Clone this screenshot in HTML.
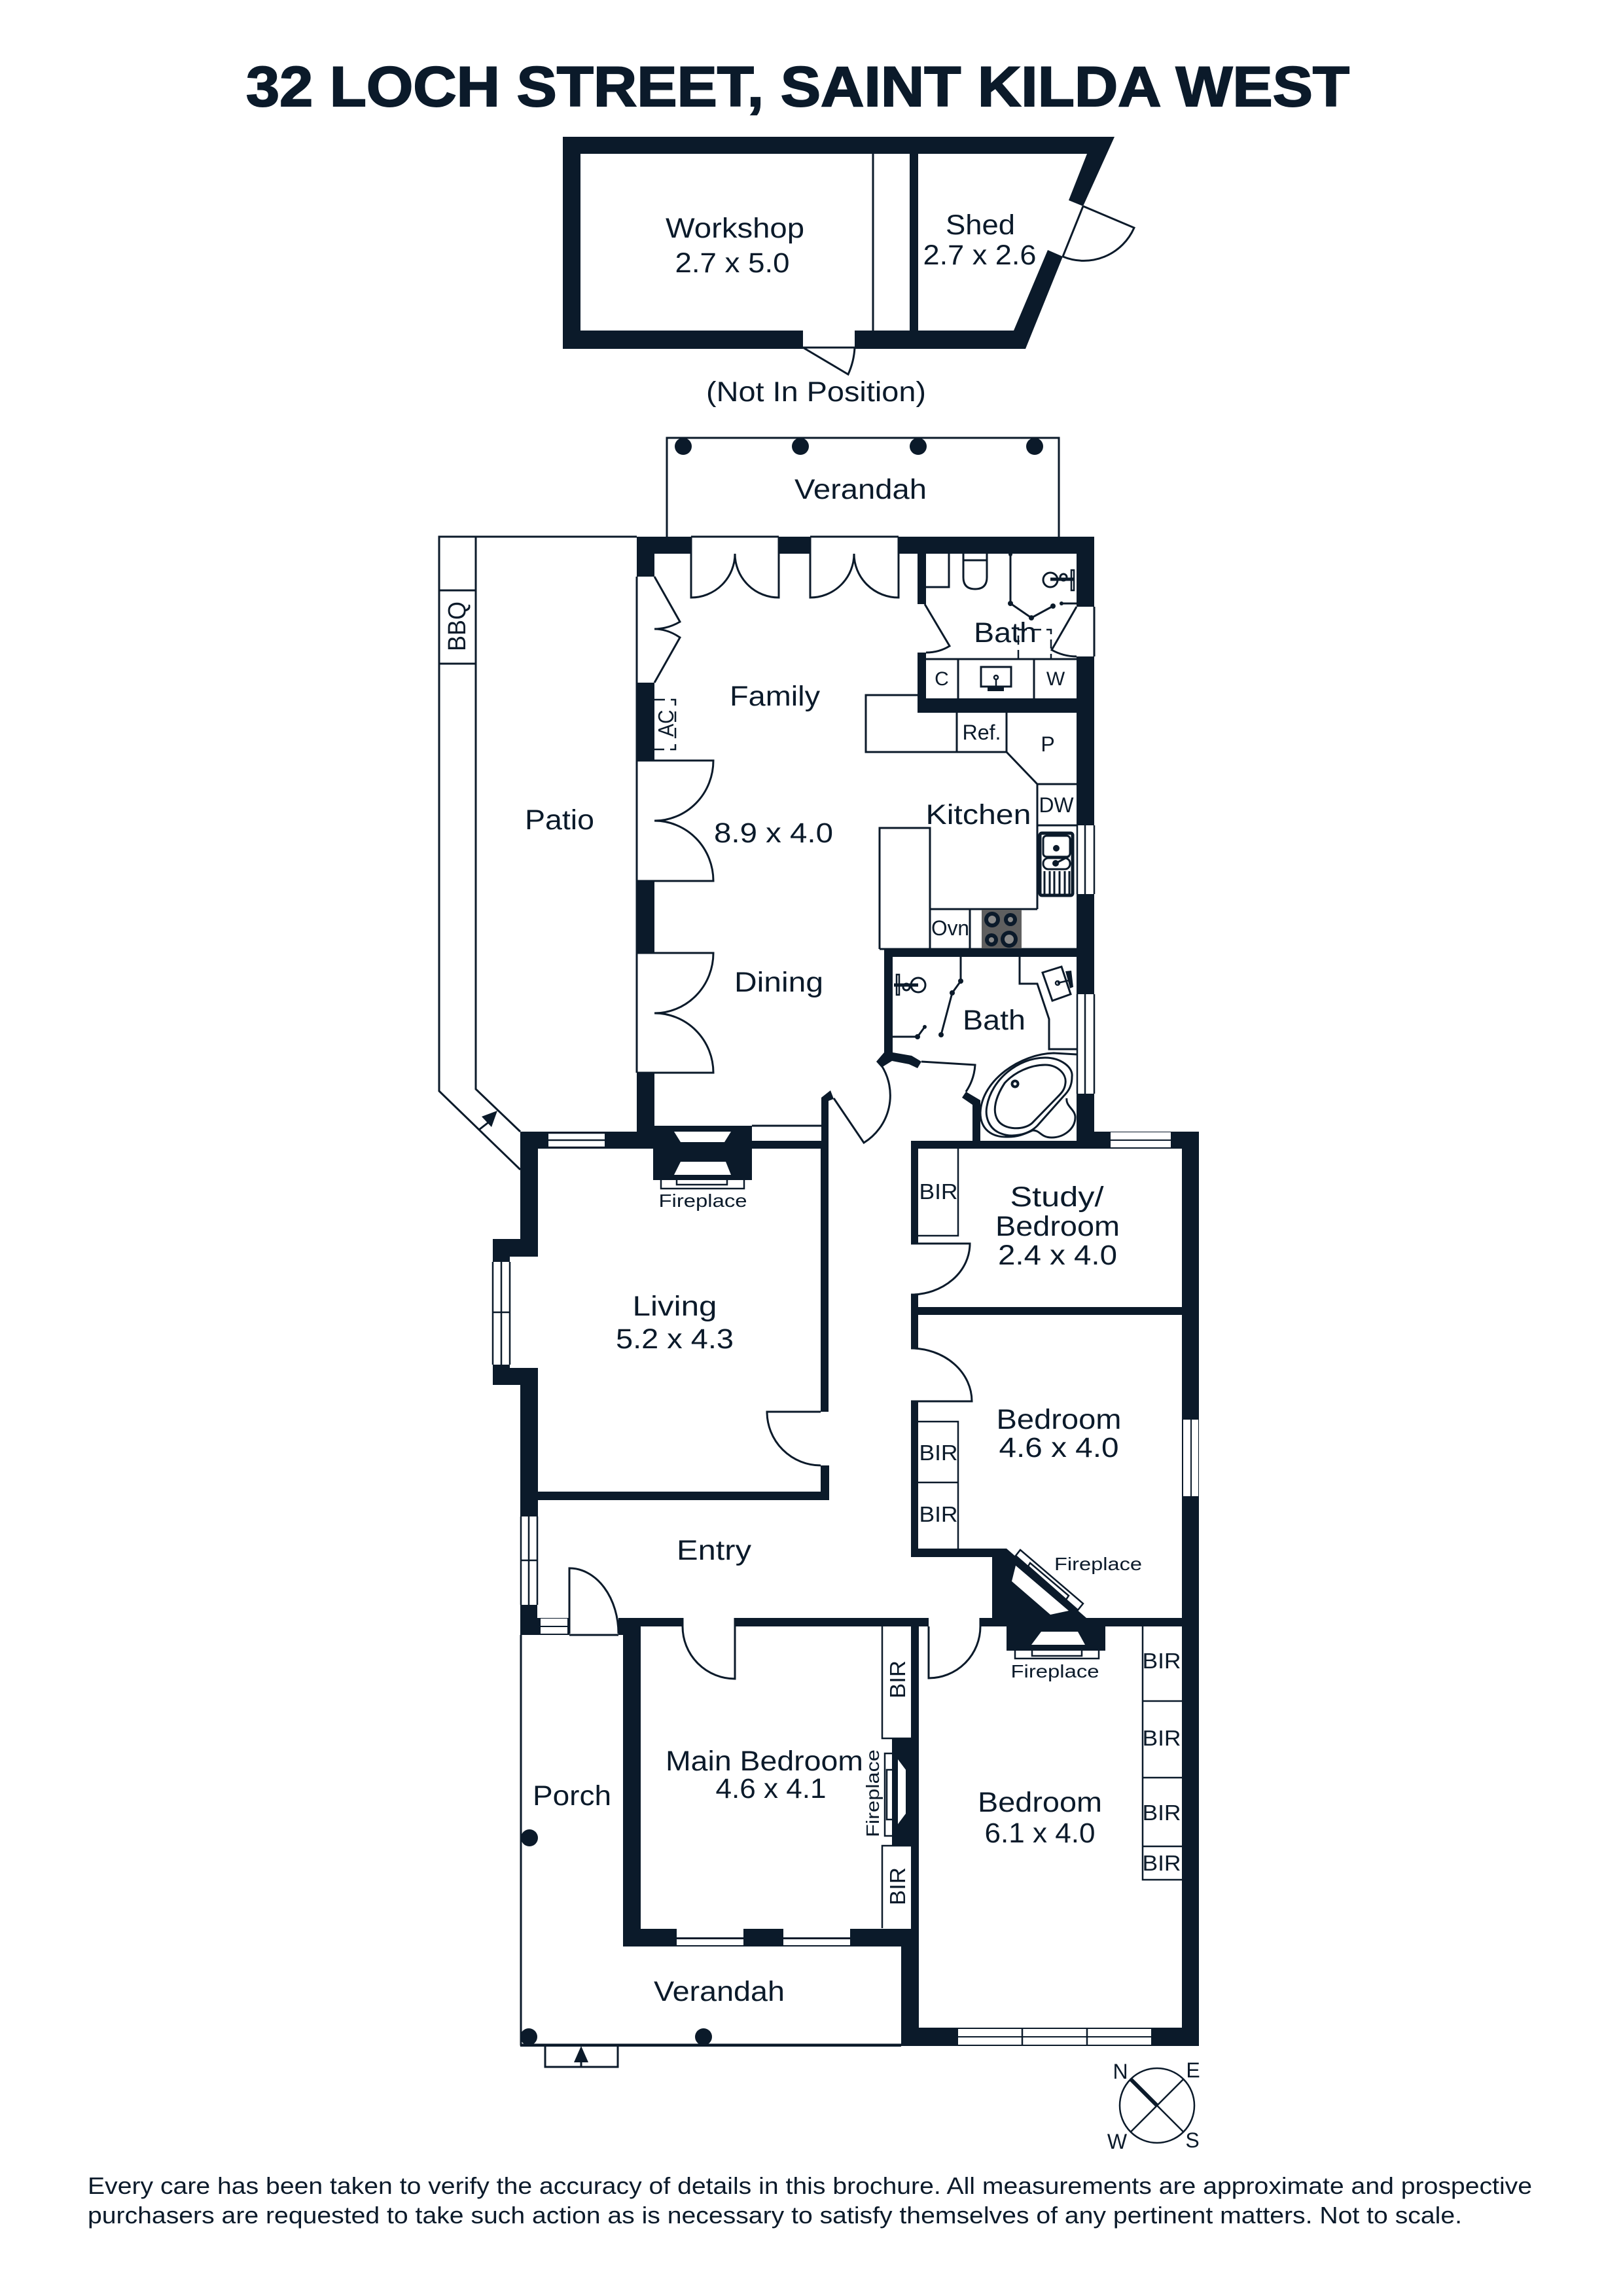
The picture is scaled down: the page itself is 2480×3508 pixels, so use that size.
<!DOCTYPE html>
<html><head><meta charset="utf-8"><title>32 Loch Street, Saint Kilda West</title>
<style>
html,body{margin:0;padding:0;background:#fff}
svg{display:block}
text{font-family:"Liberation Sans",sans-serif;fill:#0b1a2a}
.t{font-size:43px}.s{font-size:33px}.f{font-size:28px}.d{font-size:36px}
.l{fill:none;stroke:#0b1a2a;stroke-width:3}
.m{fill:none;stroke:#0b1a2a;stroke-width:2.5}
.w{fill:#0b1a2a;stroke:none}
.c{fill:#fff;stroke:none}
.h{fill:#fff;stroke:#0b1a2a;stroke-width:2.5}
</style></head><body>
<svg xmlns="http://www.w3.org/2000/svg" width="2480" height="3508" viewBox="0 0 2480 3508">
<rect width="2480" height="3508" fill="#fff"/>
<text x="1219" y="162" text-anchor="middle" font-size="86" font-weight="700" stroke="#0b1a2a" stroke-width="2" textLength="1686" lengthAdjust="spacingAndGlyphs">32 LOCH STREET, SAINT KILDA WEST</text>

<!-- outbuilding -->
<path class="w" d="M860 209H1703L1655 315 1633 306 1661 235H887V505H1227V533H860Z"/>
<path class="w" d="M1306 505H1549L1601 382 1624 392 1567 533H1306Z"/>
<rect class="w" x="1390" y="235" width="13" height="270"/>
<path class="l" d="M1334 235V505M1227 531H1306M1227 531L1296 572Q1305 552 1306 531M1655 315L1733 348A84 84 0 0 1 1624 392M1655 315L1624 392"/>
<text class="t" x="1123" y="363" text-anchor="middle" textLength="212" lengthAdjust="spacingAndGlyphs">Workshop</text>
<text class="t" x="1119" y="416" text-anchor="middle" textLength="175" lengthAdjust="spacingAndGlyphs">2.7 x 5.0</text>
<text class="t" x="1498" y="358" text-anchor="middle" textLength="106" lengthAdjust="spacingAndGlyphs">Shed</text>
<text class="t" x="1497" y="404" text-anchor="middle" textLength="173" lengthAdjust="spacingAndGlyphs">2.7 x 2.6</text>
<text class="t" x="1247" y="613" text-anchor="middle" textLength="336" lengthAdjust="spacingAndGlyphs">(Not In Position)</text>

<!-- rear verandah -->
<path class="l" d="M1019 820V669H1618V820"/>
<circle class="w" cx="1044" cy="682" r="13"/><circle class="w" cx="1223" cy="682" r="13"/><circle class="w" cx="1403" cy="682" r="13"/><circle class="w" cx="1581" cy="682" r="13"/>
<text class="t" x="1315" y="762" text-anchor="middle" textLength="202" lengthAdjust="spacingAndGlyphs">Verandah</text>

<!-- patio -->
<path class="l" d="M973 820H671V1667L795 1787M727 820V1664L795 1729M671 902H727M671 1014H727"/>
<path class="l" d="M732 1726L750 1712"/>
<path class="w" d="M760 1697L736 1706 751 1722Z"/>
<text class="s" transform="translate(711,957) rotate(-90)" text-anchor="middle" textLength="76" lengthAdjust="spacingAndGlyphs" style="font-size:38px">BBQ</text>
<text class="t" x="855" y="1267" text-anchor="middle" textLength="106" lengthAdjust="spacingAndGlyphs">Patio</text>

<!-- thin door/window lines (family) -->
<path class="l" d="M973 881V1639M1056 820V913A67 67 0 0 0 1123 846M1190 820V913A67 67 0 0 1 1123 846M1056 820H1190M1238 820V913A67 67 0 0 0 1305 846M1373 820V913A68 67 0 0 1 1305 846M1238 820H1373"/>
<path class="l" d="M1000 881L1039 950Q1020 961 1000 961Q1020 961 1039 974L1000 1043"/>
<path class="l" d="M973 1162H1090A90 92 0 0 1 1000 1254A90 92 0 0 1 1090 1346H973M973 1456H1090A90 92 0 0 1 1000 1548A90 91 0 0 1 1090 1639H973"/>
<path class="m" stroke-dasharray="16 9" d="M1000 1069H1032V1145H1000"/>
<text class="s" transform="translate(1029,1105) rotate(-90)" text-anchor="middle" textLength="41" lengthAdjust="spacingAndGlyphs">AC</text>

<!-- kitchen -->
<path class="l" d="M1402 1062H1323V1149H1538L1585 1198H1645M1462 1089V1149M1538 1089V1149M1585 1198V1389M1585 1261H1645"/>
<path class="l" d="M1344 1450V1265H1421V1389H1585M1421 1389V1450M1482 1389V1450M1344 1450H1645"/>
<rect x="1500" y="1390" width="61" height="60" fill="#5f5f5f"/>
<circle class="w" cx="1516" cy="1405" r="12"/><circle cx="1516" cy="1405" r="6" fill="#8a8a8a"/>
<circle class="w" cx="1544" cy="1405" r="10"/><circle cx="1544" cy="1405" r="4" fill="#8a8a8a"/>
<circle class="w" cx="1515" cy="1436" r="10"/><circle cx="1515" cy="1436" r="4" fill="#8a8a8a"/>
<circle class="w" cx="1542" cy="1435" r="13"/><circle cx="1542" cy="1435" r="7" fill="#8a8a8a"/>
<rect x="1589" y="1273" width="50" height="95" rx="3" fill="none" stroke="#0b1a2a" stroke-width="5"/>
<rect x="1594" y="1277" width="41" height="32" rx="5" class="l"/>
<rect x="1594" y="1311" width="41" height="17" rx="8" class="l"/>
<circle class="w" cx="1614" cy="1296" r="5"/><circle class="w" cx="1613" cy="1319" r="5"/>
<path class="l" d="M1613 1319L1634 1308M1596 1331V1366M1604 1331V1366M1611 1331V1366M1619 1331V1366M1627 1331V1366M1634 1331V1366"/>
<text class="s" x="1500" y="1130" text-anchor="middle" textLength="59" lengthAdjust="spacingAndGlyphs" style="font-size:32px">Ref.</text>
<text class="s" x="1601" y="1148" text-anchor="middle" style="font-size:32px">P</text>
<text class="s" x="1614" y="1241" text-anchor="middle" textLength="53" lengthAdjust="spacingAndGlyphs" style="font-size:32px">DW</text>
<text class="s" x="1452" y="1429" text-anchor="middle" textLength="58" lengthAdjust="spacingAndGlyphs" style="font-size:32px">Ovn</text>

<!-- upper bath fixtures -->
<path class="l" d="M1415 897H1450V846M1472 846V882Q1472 900 1490 900Q1508 900 1508 882V846M1472 856H1508"/>
<path class="l" d="M1544 846V922L1576 944 1609 926M1622 922H1645"/>
<circle class="w" cx="1544" cy="922" r="4"/><circle class="w" cx="1576" cy="944" r="4"/><circle class="w" cx="1609" cy="926" r="4"/><circle class="w" cx="1622" cy="922" r="3"/><circle class="w" cx="1544" cy="847" r="3"/>
<circle class="l" cx="1605" cy="886" r="11"/>
<path d="M1605 885H1640" stroke="#0b1a2a" stroke-width="5"/>
<circle class="l" cx="1625" cy="882" r="5"/>
<rect class="m" x="1637" y="871" width="4" height="31"/>
<path class="l" d="M1413 923L1451 987Q1435 997 1415 997M1645 927L1607 993Q1625 1003 1645 1003M1672 927V1003M1415 1007H1645M1464 1007V1067M1580 1007V1067"/>
<path class="m" stroke-dasharray="14 8" d="M1556 1007V962H1606V1007"/>
<rect class="l" x="1499" y="1019" width="46" height="30"/>
<rect class="w" x="1509" y="1049" width="25" height="7"/>
<path class="m" d="M1522 1037V1052"/><circle class="m" cx="1522" cy="1035" r="3"/>
<text class="t" x="1536" y="981" text-anchor="middle" textLength="96" lengthAdjust="spacingAndGlyphs">Bath</text>
<text class="s" x="1439" y="1047" text-anchor="middle" style="font-size:30px">C</text>
<text class="s" x="1613" y="1047" text-anchor="middle" style="font-size:30px">W</text>

<!-- window lines right wall -->
<path class="m" d="M1646 1261V1366M1658 1261V1366M1672 1261V1366M1646 1519V1671M1658 1519V1671M1672 1519V1671"/>

<!-- lower bath -->
<path class="l" d="M1468 1462V1499L1455 1517 1438 1581M1364 1584H1402L1413 1569"/>
<circle class="w" cx="1468" cy="1499" r="4"/><circle class="w" cx="1455" cy="1517" r="4"/><circle class="w" cx="1438" cy="1581" r="4"/><circle class="w" cx="1402" cy="1584" r="4"/><circle class="w" cx="1413" cy="1569" r="3"/>
<circle class="l" cx="1403" cy="1505" r="11"/>
<path d="M1366 1505H1403" stroke="#0b1a2a" stroke-width="5"/>
<circle class="l" cx="1385" cy="1508" r="5"/>
<rect class="m" x="1370" y="1489" width="4" height="31"/>
<path class="l" d="M1558 1462V1503H1585L1603 1557V1603H1645"/>
<path class="l" d="M1593 1486L1622 1477 1636 1519 1608 1529Z"/>
<path class="w" d="M1628 1484L1637 1483 1640 1508 1635 1510Z"/>
<path class="m" d="M1616 1502L1633 1498"/><circle class="m" cx="1616" cy="1502" r="3"/>
<path class="l" d="M1645 1611L1610 1609C1560 1610 1500 1650 1498 1700C1498 1725 1515 1738 1540 1737C1555 1737 1565 1733 1578 1727C1590 1727 1590 1738 1607 1738C1625 1738 1643 1725 1643 1707C1643 1695 1628 1690 1630 1678"/>
<path class="l" d="M1597 1616C1620 1616 1640 1630 1638 1645C1638 1660 1632 1668 1625 1675L1585 1720C1570 1735 1545 1738 1530 1732C1510 1725 1505 1705 1508 1690C1515 1650 1555 1616 1597 1616Z"/>
<path class="l" d="M1597 1627C1615 1627 1630 1640 1628 1655C1627 1665 1622 1670 1615 1677L1577 1716C1565 1727 1535 1727 1525 1712C1515 1697 1522 1675 1535 1655C1550 1638 1575 1627 1597 1627Z"/>
<circle cx="1551" cy="1656" r="4.5" fill="#fff" stroke="#0b1a2a" stroke-width="4"/>
<text class="t" x="1519" y="1573" text-anchor="middle" textLength="96" lengthAdjust="spacingAndGlyphs">Bath</text>
<path class="l" d="M1408 1622L1490 1627A82 82 0 0 1 1476 1668M1274 1678L1320 1746A85 85 0 0 0 1347 1628"/>

<text class="t" x="1184" y="1078" text-anchor="middle" textLength="138" lengthAdjust="spacingAndGlyphs">Family</text>
<text class="t" x="1182" y="1287" text-anchor="middle" textLength="182" lengthAdjust="spacingAndGlyphs">8.9 x 4.0</text>
<text class="t" x="1495" y="1259" text-anchor="middle" textLength="161" lengthAdjust="spacingAndGlyphs">Kitchen</text>
<text class="t" x="1190" y="1515" text-anchor="middle" textLength="136" lengthAdjust="spacingAndGlyphs">Dining</text>

<!-- main walls -->
<path class="w" d="M973 820H1056V846H1000V881H973Z"/>
<rect class="w" x="973" y="1043" width="27" height="119"/>
<rect class="w" x="973" y="1346" width="27" height="110"/>
<rect class="w" x="973" y="1639" width="27" height="95"/>
<rect class="w" x="1190" y="820" width="48" height="26"/>
<rect class="w" x="1373" y="820" width="299" height="26"/>
<rect class="w" x="1645" y="820" width="27" height="107"/>
<rect class="w" x="1645" y="1003" width="27" height="258"/>
<rect class="w" x="1645" y="1366" width="27" height="153"/>
<rect class="w" x="1645" y="1671" width="27" height="84"/>
<rect class="w" x="1402" y="846" width="13" height="77"/>
<rect class="w" x="1402" y="997" width="13" height="92"/>
<rect class="w" x="1402" y="1067" width="243" height="22"/>
<rect class="w" x="1351" y="1449" width="294" height="13"/>
<rect class="w" x="1351" y="1449" width="13" height="162"/>
<path class="w" d="M1351 1608L1339 1622 1347 1631 1363 1621 1389 1626 1402 1632 1408 1622 1393 1613 1364 1608Z"/>
<path class="w" d="M1476 1668L1498 1681V1745H1486V1688L1470 1677Z"/>

<!-- living -->
<path class="w" d="M795 1729H998V1720H1149V1743H1255V1677L1269 1666 1274 1679 1266 1682V2157H1254V1755H1149V1803H998V1755H822V1893 1920H779V1928H753V1893H795Z"/>
<rect class="c" x="838" y="1731" width="86" height="22"/>
<path class="m" d="M838 1742H924M838 1731H924M838 1753H924"/>
<path class="c" d="M1030 1729H1117L1107 1745H1040Z"/>
<path class="c" d="M1040 1775H1109L1117 1795H1030Z"/>
<path class="l" d="M1149 1720H1255"/>
<path class="m" d="M1010 1803V1816H1137V1803M1034 1803V1810H1111V1803"/>
<text class="f" x="1074" y="1844" text-anchor="middle" textLength="135" lengthAdjust="spacingAndGlyphs">Fireplace</text>
<path class="w" d="M753 2085H779V2090H822V2317H795V2116H753Z"/>
<path class="m" d="M753 1928V2085M766 1928V2085M779 1928V2085M753 2005H779"/>
<path class="w" d="M1254 2239H1267V2292H822V2279H1254Z"/>
<path class="l" d="M1254 2157H1172A82 82 0 0 0 1254 2239"/>
<text class="t" x="1031" y="2010" text-anchor="middle" textLength="129" lengthAdjust="spacingAndGlyphs">Living</text>
<text class="t" x="1031" y="2060" text-anchor="middle" textLength="180" lengthAdjust="spacingAndGlyphs">5.2 x 4.3</text>

<!-- entry -->
<path class="m" d="M796 2317V2452M808 2317V2452M821 2317V2452M796 2384H821"/>
<path class="w" d="M795 2452H821V2472H870V2498H795Z"/>
<rect class="c" x="826" y="2473" width="41" height="11"/>
<rect class="c" x="826" y="2486" width="41" height="10"/>
<path class="l" d="M870 2496V2396A75 100 0 0 1 945 2496M870 2498H945M796 2498V3124H1377"/>
<path class="w" d="M945 2472H1043V2485H979V2947H1034V2949H1136V2947H1197V2949H1299V2947H1392V2485H1123V2472H1419V2485H1404V3098H1806V2485H1689V2522H1538V2485H1498V2472H1516V2379H1392V2366H1538L1660 2472H1806V2009H1392V1997H1806V1755H1392V1743H1486V1729H1498V1743H1645V1729H1832V3126H1377V2974H952V2498H945Z"/>
<rect class="c" x="1034" y="2949" width="102" height="11"/><rect class="c" x="1034" y="2963" width="102" height="9"/>
<rect class="c" x="1197" y="2949" width="102" height="11"/><rect class="c" x="1197" y="2963" width="102" height="9"/>
<rect class="c" x="1464" y="3100" width="295" height="11"/><rect class="c" x="1464" y="3113" width="295" height="11"/>
<path class="m" d="M1562 3100V3124M1661 3100V3124"/>
<rect class="c" x="1697" y="1730" width="92" height="11"/><rect class="c" x="1697" y="1743" width="92" height="10"/>
<rect class="c" x="1808" y="2169" width="11" height="117"/><rect class="c" x="1821" y="2169" width="10" height="117"/>
<path class="l" d="M1043 2472V2485A80 80 0 0 0 1123 2565V2472M1498 2472V2485A79 79 0 0 1 1419 2564V2485"/>
<text class="t" x="1091" y="2383" text-anchor="middle" textLength="114" lengthAdjust="spacingAndGlyphs">Entry</text>

<!-- study / bedroom left walls -->
<rect class="w" x="1392" y="1743" width="11" height="157"/>
<rect class="w" x="1392" y="1978" width="11" height="82"/>
<rect class="w" x="1392" y="2141" width="11" height="238"/>
<path class="l" d="M1392 1900H1482A90 78 0 0 1 1392 1978M1392 2141H1485A93 81 0 0 0 1392 2060"/>
<path class="m" d="M1403 1888H1464V1755M1403 2172H1464V2366M1403 2265H1464"/>
<text class="s" x="1434" y="1832" text-anchor="middle" textLength="59" lengthAdjust="spacingAndGlyphs">BIR</text>
<text class="s" x="1434" y="2231" text-anchor="middle" textLength="59" lengthAdjust="spacingAndGlyphs">BIR</text>
<text class="s" x="1434" y="2325" text-anchor="middle" textLength="59" lengthAdjust="spacingAndGlyphs">BIR</text>
<text class="t" x="1615" y="1843" text-anchor="middle" textLength="143" lengthAdjust="spacingAndGlyphs">Study/</text>
<text class="t" x="1616" y="1888" text-anchor="middle" textLength="190" lengthAdjust="spacingAndGlyphs">Bedroom</text>
<text class="t" x="1616" y="1932" text-anchor="middle" textLength="182" lengthAdjust="spacingAndGlyphs">2.4 x 4.0</text>
<text class="t" x="1618" y="2183" text-anchor="middle" textLength="191" lengthAdjust="spacingAndGlyphs">Bedroom</text>
<text class="t" x="1618" y="2226" text-anchor="middle" textLength="183" lengthAdjust="spacingAndGlyphs">4.6 x 4.0</text>

<!-- diagonal + south fireplaces -->
<path class="c" d="M1552 2392L1633 2461 1605 2467 1546 2416Z"/>
<path class="c" d="M1591 2493H1647L1658 2513H1576Z"/>
<path class="h" d="M1559 2368L1655 2450 1647 2460 1552 2377Z"/>
<path class="h" d="M1574 2388L1633 2438 1629 2444 1571 2393Z"/>
<path class="m" d="M1551 2522V2534H1679V2522M1577 2522V2530H1653V2522"/>
<text class="f" x="1678" y="2399" text-anchor="middle" textLength="134" lengthAdjust="spacingAndGlyphs">Fireplace</text>
<text class="f" x="1612" y="2563" text-anchor="middle" textLength="135" lengthAdjust="spacingAndGlyphs">Fireplace</text>

<!-- BIRs east -->
<path class="m" d="M1746 2485V2872H1806M1746 2599H1806M1746 2716H1806M1746 2821H1806"/>
<text class="s" x="1775" y="2549" text-anchor="middle" textLength="59" lengthAdjust="spacingAndGlyphs">BIR</text>
<text class="s" x="1775" y="2667" text-anchor="middle" textLength="59" lengthAdjust="spacingAndGlyphs">BIR</text>
<text class="s" x="1775" y="2781" text-anchor="middle" textLength="59" lengthAdjust="spacingAndGlyphs">BIR</text>
<text class="s" x="1775" y="2858" text-anchor="middle" textLength="59" lengthAdjust="spacingAndGlyphs">BIR</text>

<!-- main bedroom east -->
<path class="w" d="M1363 2657H1392V2820H1363Z"/>
<path class="c" d="M1372 2688L1384 2704V2771L1372 2787Z"/>
<path class="m" d="M1363 2679H1352V2805H1363M1363 2704H1355V2780H1363"/>
<path class="m" d="M1392 2656H1348V2485M1392 2820H1348V2946"/>
<text class="s" transform="translate(1383,2566) rotate(-90)" text-anchor="middle" textLength="58" lengthAdjust="spacingAndGlyphs">BIR</text>
<text class="s" transform="translate(1383,2882) rotate(-90)" text-anchor="middle" textLength="58" lengthAdjust="spacingAndGlyphs">BIR</text>
<text class="f" transform="translate(1343,2740) rotate(-90)" text-anchor="middle" textLength="134" lengthAdjust="spacingAndGlyphs">Fireplace</text>
<text class="t" x="1168" y="2705" text-anchor="middle" textLength="302" lengthAdjust="spacingAndGlyphs">Main Bedroom</text>
<text class="t" x="1178" y="2747" text-anchor="middle" textLength="169" lengthAdjust="spacingAndGlyphs">4.6 x 4.1</text>
<text class="t" x="1589" y="2768" text-anchor="middle" textLength="190" lengthAdjust="spacingAndGlyphs">Bedroom</text>
<text class="t" x="1589" y="2815" text-anchor="middle" textLength="169" lengthAdjust="spacingAndGlyphs">6.1 x 4.0</text>
<text class="t" x="874" y="2758" text-anchor="middle" textLength="120" lengthAdjust="spacingAndGlyphs">Porch</text>
<circle class="w" cx="809" cy="2808" r="13"/>

<!-- front verandah -->
<circle class="w" cx="808" cy="3112" r="13"/><circle class="w" cx="1075" cy="3112" r="13"/>
<path d="M795 3125H1377" stroke="#0b1a2a" stroke-width="4"/>
<path class="l" d="M833 3126V3158H944V3126M888 3150V3158"/>
<path class="w" d="M888 3126L877 3151H899Z"/>
<text class="t" x="1099" y="3057" text-anchor="middle" textLength="200" lengthAdjust="spacingAndGlyphs">Verandah</text>

<!-- compass -->
<circle class="m" cx="1768" cy="3217" r="57"/>
<path class="m" d="M1728 3177L1808 3257M1808 3177L1728 3257"/>
<path d="M1728 3177L1768 3217" stroke="#0b1a2a" stroke-width="6"/>
<text class="s" x="1712" y="3176" text-anchor="middle" style="font-size:32px">N</text>
<text class="s" x="1823" y="3174" text-anchor="middle" style="font-size:32px">E</text>
<text class="s" x="1707" y="3283" text-anchor="middle" style="font-size:32px">W</text>
<text class="s" x="1822" y="3281" text-anchor="middle" style="font-size:32px">S</text>

<!-- disclaimer -->
<text class="d" x="134" y="3352" textLength="2207" lengthAdjust="spacingAndGlyphs">Every care has been taken to verify the accuracy of details in this brochure. All measurements are approximate and prospective</text>
<text class="d" x="134" y="3397" textLength="2100" lengthAdjust="spacingAndGlyphs">purchasers are requested to take such action as is necessary to satisfy themselves of any pertinent matters. Not to scale.</text>
</svg>
</body></html>
